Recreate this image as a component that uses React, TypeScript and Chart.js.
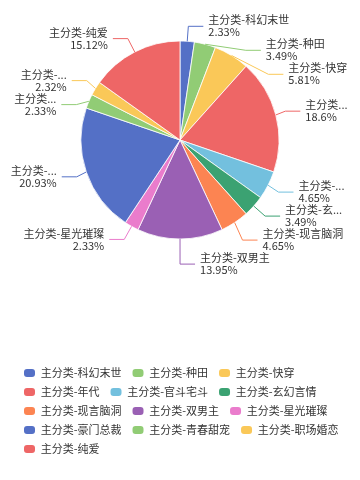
import React, { useEffect, useRef } from 'react';
import { Chart, registerables } from 'chart.js';

Chart.register(...registerables);

const categories = [
  '主分类-科幻末世', '主分类-种田', '主分类-快穿', '主分类-年代', '主分类-官斗宅斗',
  '主分类-玄幻言情', '主分类-现言脑洞', '主分类-双男主', '主分类-星光璀璨',
  '主分类-豪门总裁', '主分类-青春甜宠', '主分类-职场婚恋', '主分类-纯爱',
];
// percentage share of each category
const values = [2.33, 3.49, 5.81, 18.6, 4.65, 3.49, 4.65, 13.95, 2.33, 20.93, 2.33, 2.32, 15.12];
// outer label names as displayed (truncated where the picture truncates them)
const labelNames = [
  '主分类-科幻末世', '主分类-种田', '主分类-快穿', '主分类...', '主分类-...',
  '主分类-玄...', '主分类-现言脑洞', '主分类-双男主', '主分类-星光璀璨',
  '主分类-...', '主分类...', '主分类-...', '主分类-纯爱',
];
const colors = [
  '#5470c6', '#91cc75', '#fac858', '#ee6666', '#73c0de', '#3ba272', '#fc8452',
  '#9a60b4', '#ea7ccc', '#5470c6', '#91cc75', '#fac858', '#ee6666',
];

const FONT_FAMILY = '"Noto Sans CJK SC", "Noto Sans", sans-serif';

const outerLabelPlugin = {
  id: 'outerLabels',
  afterDatasetsDraw(chart: any) {
    const meta = chart.getDatasetMeta(0);
    const ctx = chart.ctx as CanvasRenderingContext2D;
    const len1 = 15, len2 = 15, distance = 5, halfH = 12;
    const items = meta.data.map((arc: any, i: number) => {
      const p = arc.getProps(['x', 'y', 'startAngle', 'endAngle', 'outerRadius'], true);
      const mid = (p.startAngle + p.endAngle) / 2;
      const dx = Math.cos(mid), dy = Math.sin(mid);
      const left = dx < -1e-9;
      const x1 = p.x + p.outerRadius * dx, y1 = p.y + p.outerRadius * dy;
      const x2 = x1 + dx * len1, y2 = y1 + dy * len1;
      const x3 = x2 + (left ? -1 : 1) * len2;
      const lx = x3 + (left ? -distance : distance);
      return { i, cx: p.x, cy: p.y, r: p.outerRadius, left, x1, y1, lx, ly: y2, dist: x2 - x3 };
    });
    if (!items.length) return;
    const cx = items[0].cx, cy = items[0].cy, r = items[0].r;
    const adjustSide = (list: any[], dir: number) => {
      if (list.length < 2) return;
      list.sort((a, b) => a.ly - b.ly);
      let lastPos = 0;
      let adjusted = false;
      for (const it of list) {
        const top = it.ly - halfH;
        const delta = top - lastPos;
        if (delta < 0) { it.ly -= delta; adjusted = true; }
        lastPos = it.ly + halfH;
      }
      if (!adjusted) return;
      const semis = [{ list: [] as any[], maxY: 0, rB: 0 }, { list: [] as any[], maxY: 0, rB: 0 }];
      const rA = r + len1;
      for (const it of list) {
        const semi = it.ly > cy ? semis[1] : semis[0];
        const dyy = Math.abs(it.ly - cy);
        if (dyy >= semi.maxY) {
          const ddx = it.lx - cx - len2 * dir;
          semi.rB = Math.abs(ddx) < rA ? Math.sqrt((dyy * dyy) / (1 - (ddx * ddx) / rA / rA)) : rA;
          semi.maxY = dyy;
        }
        semi.list.push(it);
      }
      for (const semi of semis) {
        const rB2 = semi.rB * semi.rB;
        for (const it of semi.list) {
          const dyy = Math.abs(it.ly - cy);
          const ddx = Math.sqrt(Math.max(0, 1 - (dyy * dyy) / rB2) * rA * rA);
          it.lx = cx + (ddx + len2) * dir;
        }
      }
    };
    adjustSide(items.filter((it: any) => it.lx >= cx), 1);
    adjustSide(items.filter((it: any) => it.lx < cx), -1);

    ctx.save();
    ctx.lineWidth = 1;
    for (const it of items) {
      const x3 = it.left ? it.lx + distance : it.lx - distance;
      const x2 = x3 + it.dist;
      ctx.strokeStyle = colors[it.i];
      ctx.beginPath();
      ctx.moveTo(it.x1, it.y1);
      ctx.lineTo(x2, it.ly);
      ctx.lineTo(x3, it.ly);
      ctx.stroke();
    }
    ctx.font = `11px ${FONT_FAMILY}`;
    ctx.fillStyle = '#333';
    ctx.textBaseline = 'middle';
    for (const it of items) {
      ctx.textAlign = it.left ? 'right' : 'left';
      ctx.fillText(labelNames[it.i], it.lx, it.ly - 6);
      ctx.fillText(`${values[it.i]}%`, it.lx, it.ly + 6);
    }
    ctx.restore();
  },
};

// Flowing legend below the pie (left-aligned rows, rounded-rect swatches)
const flowLegendPlugin = {
  id: 'flowLegend',
  afterDraw(chart: any) {
    const ctx = chart.ctx as CanvasRenderingContext2D;
    const startX = 24, right = 344, firstY = 373, rowH = 19;
    const boxW = 11, boxH = 8, textGap = 5.7, itemGap = 11;
    const names: string[] = chart.data.labels;
    const fills: string[] = chart.data.datasets[0].backgroundColor;
    ctx.save();
    ctx.font = `11px ${FONT_FAMILY}`;
    ctx.textBaseline = 'middle';
    ctx.textAlign = 'left';
    let x = startX, y = firstY;
    names.forEach((name, i) => {
      const w = boxW + textGap + ctx.measureText(name).width;
      if (x > startX && x + w > right) { x = startX; y += rowH; }
      ctx.fillStyle = fills[i];
      ctx.beginPath();
      if ((ctx as any).roundRect) (ctx as any).roundRect(x, y - boxH / 2, boxW, boxH, 3);
      else ctx.rect(x, y - boxH / 2, boxW, boxH);
      ctx.fill();
      ctx.fillStyle = '#333';
      ctx.fillText(name, x + boxW + textGap, y);
      x += w + itemGap;
    });
    ctx.restore();
  },
};

export default function App() {
  const canvasRef = useRef<HTMLCanvasElement | null>(null);

  useEffect(() => {
    if (!canvasRef.current) return;
    const chart = new Chart(canvasRef.current, {
      type: 'pie',
      data: {
        labels: categories,
        datasets: [
          {
            data: values,
            backgroundColor: colors,
            borderColor: '#ffffff',
            borderWidth: 0.8,
            radius: 99,
          } as any,
        ],
      },
      options: {
        animation: false,
        responsive: true,
        maintainAspectRatio: false,
        layout: { padding: { top: 0, bottom: 200, left: 0, right: 0 } },
        plugins: {
          tooltip: { enabled: false },
          legend: { display: false },
        },
      },
      plugins: [outerLabelPlugin, flowLegendPlugin],
    });
    return () => chart.destroy();
  }, []);

  return (
    <div style={{ position: 'fixed', left: 0, top: 0, width: 360, height: 480 }}>
      <canvas ref={canvasRef} />
    </div>
  );
}
